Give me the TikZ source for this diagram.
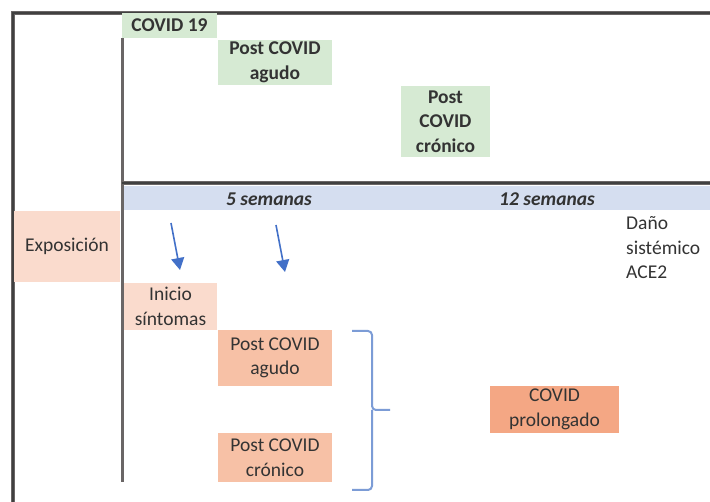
\documentclass[tikz,border=0pt]{standalone}
\usepackage{fontspec}
\setmainfont{Carlito}
\usetikzlibrary{arrows.meta}
\definecolor{txt}{HTML}{333333}
\definecolor{greenbox}{HTML}{D6EAD3}
\definecolor{peach}{HTML}{FADBCD}
\definecolor{salmon}{HTML}{F7C1A6}
\definecolor{salmondark}{HTML}{F4A784}
\definecolor{band}{HTML}{D5DEF0}
\definecolor{arrowblue}{HTML}{4270C8}
\definecolor{bracketblue}{HTML}{7C9CD6}
\definecolor{frameline}{HTML}{6A6666}
\tikzset{
  box/.style={rectangle, inner sep=0pt, align=center, text=txt,
    font=\fontsize{19.5}{24.5}\selectfont},
  gbox/.style={box, fill=greenbox, font=\fontsize{19.5}{24.5}\selectfont\bfseries},
  pbox/.style={box, fill=peach},
  sbox/.style={box, fill=salmon},
  dbox/.style={box, fill=salmondark},
  weeks/.style={text=txt, font=\fontsize{19.5}{24.5}\selectfont\bfseries\itshape, inner sep=0pt},
  frame/.style={draw=frameline, line width=3.5pt},
  frameinner/.style={draw=black!75, line width=1.2pt},
  timearrow/.style={draw=arrowblue, line width=1.6pt, -{Triangle[width=13pt,length=12pt]}},
  bracket/.style={draw=bracketblue, line width=2pt, rounded corners=4pt},
}
\begin{document}
\begin{tikzpicture}[x=1pt,y=-1pt]
\useasboundingbox (0,0) rectangle (710,502);
\fill[white] (0,0) rectangle (710,502);
% band
\fill[band] (124,186) rectangle (710,210);
% frame
\coordinate (fTL) at (13,13);
\coordinate (fTR) at (710,13);
\coordinate (fBL) at (13,502);
\draw[frame] (fBL) -- (fTL) -- (fTR);
\draw[frameinner] (fBL) -- (fTL) -- (fTR);
\coordinate (iT) at (122,38);
\coordinate (iB) at (122,482);
\draw[frame, line width=3pt] (iT) -- (iB);
\coordinate (hL) at (122,183);
\coordinate (hR) at (710,183);
\draw[frame] (hL) -- (hR);
\draw[frameinner] (hL) -- (hR);
% top green boxes
\node[gbox, minimum width=95pt, minimum height=25pt] (covid) at (169.5,25.5) {COVID 19};
\node[gbox, minimum width=114pt, minimum height=45pt] (pca) at (275,62.5) {Post COVID\\agudo};
\node[gbox, minimum width=89pt, minimum height=71pt] (pcc) at (445.5,121.5) {Post\\COVID\\crónico};
% weeks
\node[weeks] (w5) at (269,199) {5 semanas};
\node[weeks] (w12) at (547,199) {12 semanas};
% lower boxes
\node[pbox, minimum width=106pt, minimum height=71pt] (expo) at (67,246.5) {Exposición};
\node[pbox, minimum width=93pt, minimum height=47pt] (inicio) at (170.5,306.5) {Inicio\\síntomas};
\node[sbox, minimum width=114pt, minimum height=56pt] (pca2) at (275,358) {Post COVID\\agudo};
\node[sbox, minimum width=114pt, minimum height=49pt] (pcc2) at (275,457.5) {Post COVID\\crónico};
\node[dbox, minimum width=129pt, minimum height=47pt] (prol) at (554.5,409.5) {COVID\\prolongado};
\node[box, align=left, anchor=west] (dano) at (626,248) {Daño\\sistémico\\ACE2};
% arrows
\coordinate (a1s) at (171,223);
\coordinate (a1e) at (180,270);
\coordinate (a2s) at (276,225);
\coordinate (a2e) at (285,272);
\draw[timearrow] (a1s) -- (a1e);
\draw[timearrow] (a2s) -- (a2e);
% bracket
\coordinate (bT) at (352,331);
\coordinate (bB) at (352,490);
\coordinate (bM) at (372,410);
\coordinate (bTip) at (390,410);
\draw[bracket] (bT) -| (bM) -- (bTip);
\draw[bracket] (bB) -| (bM);
\end{tikzpicture}
\end{document}
